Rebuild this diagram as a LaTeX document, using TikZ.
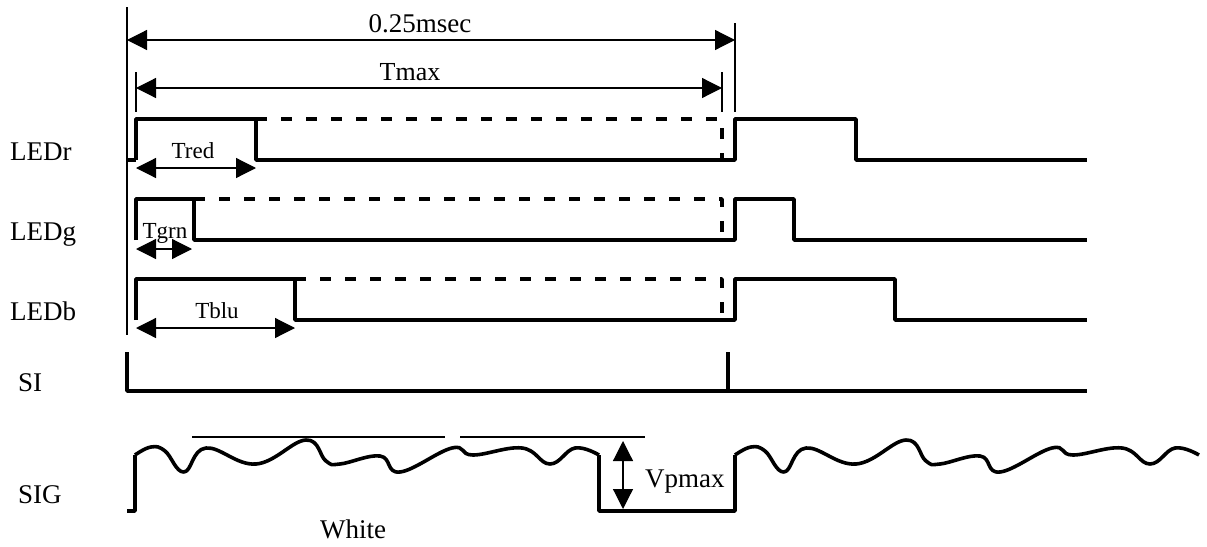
\documentclass[tikz,border=0pt]{standalone}
\usepackage{fontspec}
\setmainfont{Liberation Serif}
\usepackage{tikz}
\usetikzlibrary{arrows.meta}
\tikzset{
    sig/.style={line width=3.6pt,line join=round},
    sigdash/.style={sig,dash pattern=on 11pt off 14pt},
    thinline/.style={line width=1.2pt},
    dim/.style={thinline,{Triangle[length=20pt,width=20pt]}-{Triangle[length=20pt,width=20pt]}},
    lbl/.style={inner sep=0pt,anchor=base,font=\fontsize{27}{30}\selectfont},
    tlbl/.style={inner sep=0pt,anchor=base,font=\fontsize{23}{26}\selectfont}
}

\begin{document}
\begin{tikzpicture}[x=1pt,y=-1pt]
\useasboundingbox (0,0) rectangle (1207,546);
% extension lines
\draw[thinline] (127,7) -- (127,335);
\draw[thinline] (735,23) -- (735,112);
\draw[thinline] (136,72) -- (136,112);
\draw[thinline] (722,72) -- (722,112);
\draw[dim] (127,40) -- (735,40);
\node[lbl] (period) at (420,32) {0.25msec};
\draw[dim] (136,88) -- (722,88);
\node[lbl,font=\fontsize{26}{29}\selectfont] (tmax) at (410,80) {Tmax};
% LED signals
\foreach \name/\hi/\lo/\off/\offb in {LEDr/119/160/256/856,LEDg/199/240/194/794,LEDb/279/320/295/895}{
    \node[lbl,anchor=base west] (\name) at (10,\lo) {\name};
    \draw[sig] (136,\lo) -- (136,\hi) -- (\off,\hi) -- (\off,\lo) -- (735,\lo) -- (735,\hi) -- (\offb,\hi) -- (\offb,\lo) -- (1087,\lo);
    \draw[sigdash] (\off,\hi) -- (722,\hi) -- (722,\lo);
}
\draw[sig] (127,160) -- (136,160);
\draw[dim] (136,168) -- (256,168);
\node[tlbl] (tred) at (193,158) {Tred};
\draw[dim] (136,249) -- (192,249);
\node[tlbl] (tgrn) at (165,238) {Tgrn};
\draw[dim] (136,328) -- (295,328);
\node[tlbl] (tblu) at (217,318) {Tblu};
% SI
\node[lbl,anchor=base west] (si) at (18,391) {SI};
\draw[sig] (127,352) -- (127,391) -- (1087,391);
\draw[sig] (728,352) -- (728,391);
% SIG
\node[lbl,anchor=base west] (sigl) at (18,503) {SIG};
\draw[sig] (127,511) -- (135,511) -- (135,455);
\draw[sig] (599,455) -- (599,511) -- (735,511) -- (735,455);
\foreach \s in {0,600}{
    \begin{scope}[xshift=\s]
    \draw[sig] plot[smooth,tension=0.7] coordinates {(135,455) (151,447) (165,451) (184,472) (206,448) (256,464) (306,440) (326,461) (340,464) (380,456) (400,472) (452,448) (473,455) (522,448) (550,464) (575,448) (599,455)};
    \end{scope}
}
\draw[thinline] (192,437) -- (445,437);
\draw[thinline] (460,437) -- (645,437);
\draw[dim] (623,441) -- (623,509);
\node[lbl,anchor=base west] (vpmax) at (645,487) {Vpmax};
\node[lbl] (white) at (353,538) {White};
\end{tikzpicture}
\end{document}
